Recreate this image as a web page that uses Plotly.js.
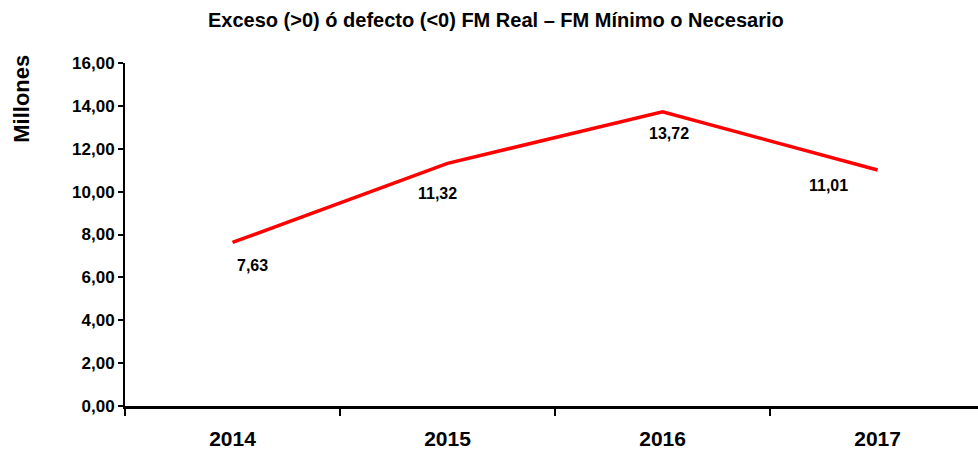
<!DOCTYPE html>
<html>
<head>
<meta charset="utf-8">
<script src="https://cdn.plot.ly/plotly-3.0.1.min.js"></script>
<style>html,body{margin:0;padding:0;background:#fff;}#chart{width:978px;height:451px;}</style>
</head>
<body>
<div id="chart"></div>
<script>
const years = ["2014", "2015", "2016", "2017"];
const values = [7.63, 11.32, 13.72, 11.01];
const labelTexts = ["7,63", "11,32", "13,72", "11,01"];
const labelShiftX = [20, -10, 6, -49];
const labelShiftY = [-23, -30, -22, -16];
const yTicks = [0, 2, 4, 6, 8, 10, 12, 14, 16];

const font = "Liberation Sans, Arial, sans-serif";

const trace = {
  x: years,
  y: values,
  type: "scatter",
  mode: "lines",
  line: {color: "#ff0000", width: 3.5},
  hoverinfo: "none"
};

const annotations = years.map((yr, i) => ({
  x: i, y: values[i], xref: "x", yref: "y",
  text: "<b>" + labelTexts[i] + "</b>",
  showarrow: false,
  xshift: labelShiftX[i], yshift: labelShiftY[i],
  font: {family: font, size: 16, color: "#000"}
}));

annotations.push({
  xref: "paper", yref: "paper",
  x: -0.121, y: 0.761,
  xanchor: "center", yanchor: "bottom",
  text: "<b>Millones</b>",
  textangle: -90,
  showarrow: false,
  font: {family: font, size: 22, color: "#000"}
});

const layout = {
  width: 978, height: 451,
  margin: {l: 125, r: 0, t: 63, b: 45},
  paper_bgcolor: "#fff", plot_bgcolor: "#fff",
  separators: ",.",
  showlegend: false,
  title: {
    text: "<b>Exceso (>0) ó defecto (<0) FM Real – FM Mínimo o Necesario</b>",
    font: {family: font, size: 20, color: "#000"},
    x: 0.507, xanchor: "center", y: 0.955, yanchor: "middle"
  },
  xaxis: {
    type: "category",
    range: [-0.5, 3.467],
    tickson: "boundaries",
    ticks: "outside", ticklen: 7, tickwidth: 2, tickcolor: "#000",
    showline: true, linecolor: "#000", linewidth: 3,
    showgrid: false, zeroline: false,
    tickfont: {family: font, size: 21, color: "#000"},
    ticklabelstandoff: 12
  },
  yaxis: {
    range: [0, 16],
    tickvals: yTicks,
    tickformat: ".2f",
    ticks: "outside", ticklen: 5, tickwidth: 2, tickcolor: "#000",
    showline: true, linecolor: "#000", linewidth: 2,
    showgrid: false, zeroline: false,
    tickfont: {family: font, size: 17, color: "#000"}
  },
  annotations: annotations
};

Plotly.newPlot("chart", [trace], layout, {displayModeBar: false, staticPlot: true}).then(() => {
  document.querySelectorAll(".xtick text, .ytick text").forEach(t => t.style.fontWeight = "bold");
});
</script>
</body>
</html>
